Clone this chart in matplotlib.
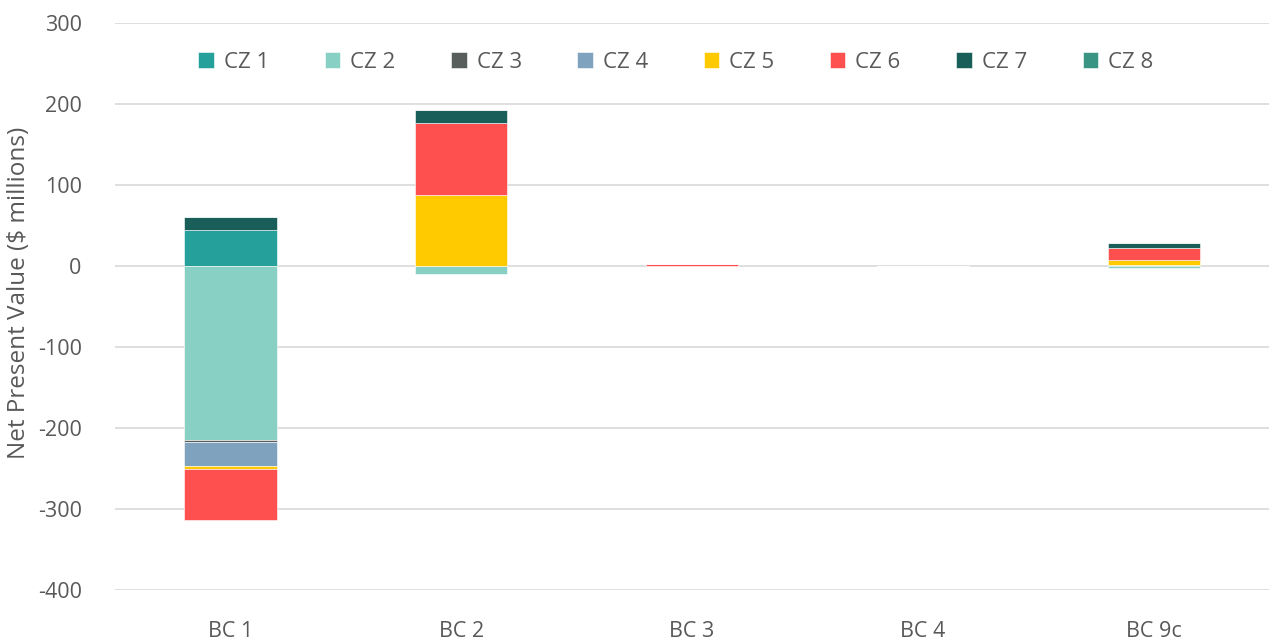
import matplotlib.pyplot as plt
import numpy as np

plt.rcParams['font.family'] = ['Open Sans', 'DejaVu Sans']

# building classes on the x axis
categories = ['BC 1', 'BC 2', 'BC 3', 'BC 4', 'BC 9c']

# net present value per climate zone ($ millions)
cz1 = [44, 0, 0, 0, 1]
cz2 = [-215, -10, 0, 0, -2]
cz3 = [-2, 0, 0, 0, 0]
cz4 = [-30, 0, 0, 0, 0]
cz5 = [-4, 88, 0, 0, 6]
cz6 = [-62, 89, 2, 0, 15]
cz7 = [17, 16, 0, 0, 6]
cz8 = [0, 0, 0, 0, 0]

series = [cz1, cz2, cz3, cz4, cz5, cz6, cz7, cz8]
names = ['CZ 1', 'CZ 2', 'CZ 3', 'CZ 4', 'CZ 5', 'CZ 6', 'CZ 7', 'CZ 8']
colors = ['#26A09A', '#88D0C3', '#595F5D', '#7FA3BE', '#FFCA00', '#FF5050', '#1A5E5A', '#3A9484']

yticks = [300, 200, 100, 0, -100, -200, -300, -400]

fig = plt.figure(figsize=(12.71, 6.4), dpi=100)
ax = fig.add_axes([0.0905, 0.078, 0.908, 0.886])

x = np.arange(len(categories))
pos_base = np.zeros(len(categories))
neg_base = np.zeros(len(categories))
for vals, name, col in zip(series, names, colors):
    v = np.array(vals, dtype=float)
    bottom = np.where(v >= 0, pos_base, neg_base)
    ax.bar(x, v, 0.4, bottom=bottom, color=col, label=name, zorder=3,
           edgecolor='white', linewidth=0.4)
    pos_base += np.clip(v, 0, None)
    neg_base += np.clip(v, None, 0)

ax.set_xlim(-0.5, len(categories) - 0.5)
ax.set_ylim(-400, 300)
ax.set_yticks(yticks)
ax.set_yticklabels([str(t) for t in yticks])
ax.set_xticks(x)
ax.set_xticklabels(categories)
ax.yaxis.grid(True, color='#D9D9D9', linewidth=1.2, zorder=0)
for s in ax.spines.values():
    s.set_visible(False)
ax.tick_params(axis='both', length=0, labelsize=15.5, labelcolor='#595959')
ax.tick_params(axis='y', pad=24)
ax.tick_params(axis='x', pad=22)
ax.set_ylabel('Net Present Value ($ millions)', fontsize=17.5, color='#595959')
ax.yaxis.set_label_coords(-0.073, 0.525)

ax.legend(loc='upper center', bbox_to_anchor=(0.486, 0.985), ncol=8, frameon=False,
          fontsize=16, labelcolor='#595959', handlelength=0.7, handleheight=0.7,
          handletextpad=0.45, columnspacing=2.5)

fig.savefig('out.png', dpi=100)
